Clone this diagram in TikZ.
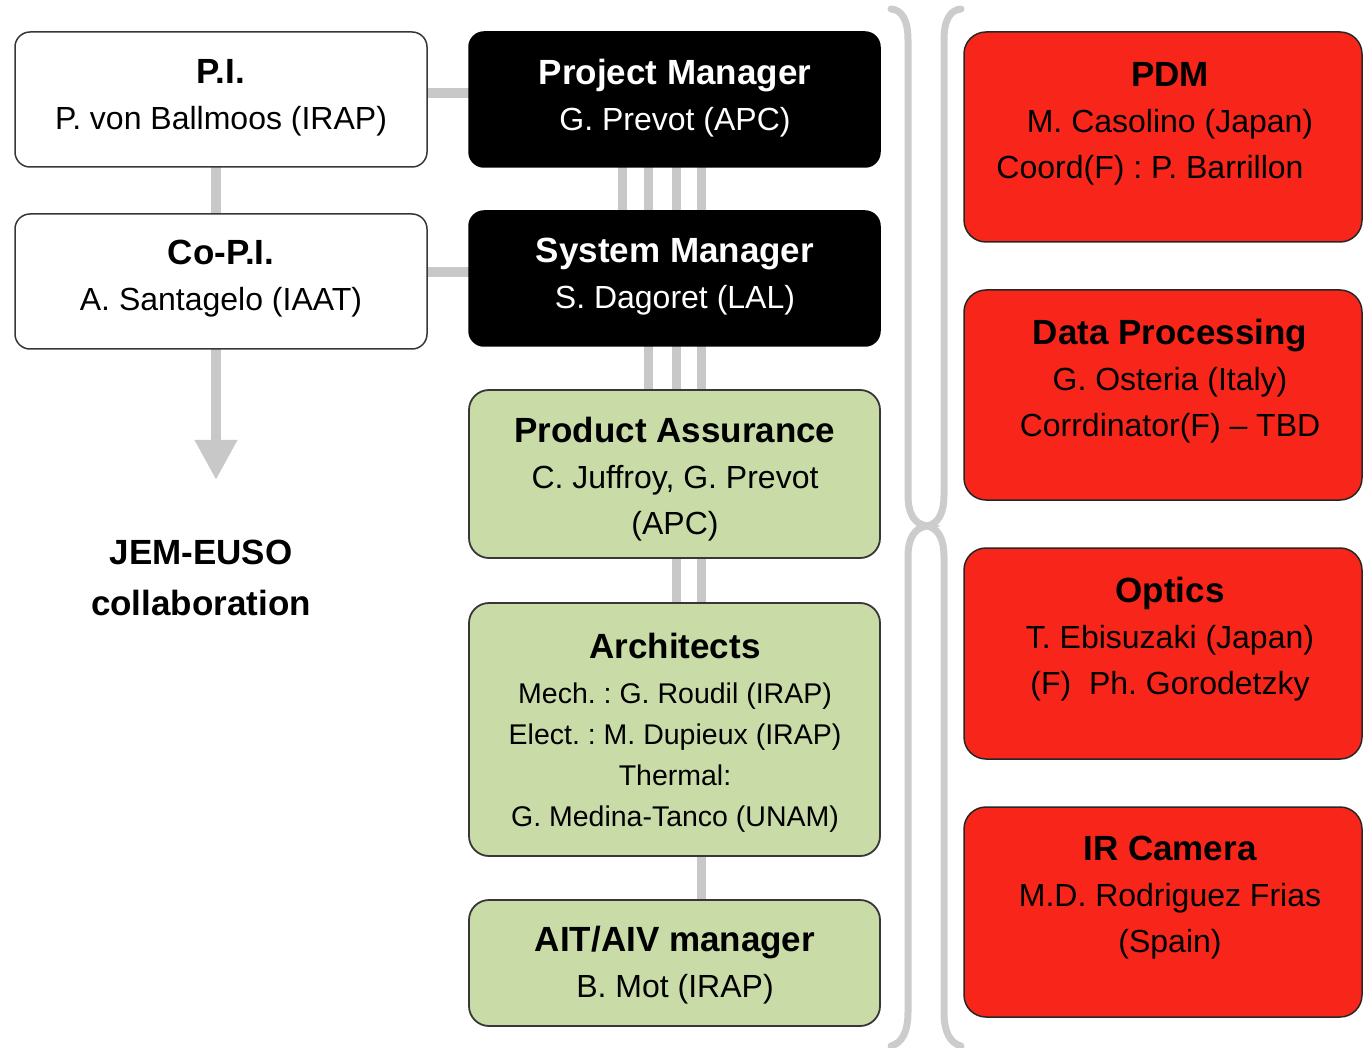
\documentclass[tikz,border=0pt]{standalone}
\usepackage{fontspec}
\setmainfont{Liberation Sans}
\usetikzlibrary{arrows.meta,backgrounds}
\definecolor{boxgreen}{RGB}{201,220,168}
\definecolor{boxred}{RGB}{248,38,26}
\definecolor{linkgray}{RGB}{200,200,200}
\definecolor{bracegray}{RGB}{204,204,204}
\definecolor{rimgray}{RGB}{55,55,55}
\newcommand\hdfont{\fontsize{35}{46}\selectfont\bfseries}
\newcommand\bdfont{\fontsize{32}{46}\selectfont}
\newcommand\smfont{\fontsize{28.5}{41}\selectfont}
\frenchspacing
\begin{document}
\begin{tikzpicture}[x=1pt,y=-1pt,
  every node/.style={inner sep=0pt, outer sep=0pt},
  whitebox/.style={draw=rimgray, fill=white, line width=1.5pt, rounded corners=15pt},
  blackbox/.style={draw=black, fill=black, line width=1.5pt, rounded corners=15pt},
  greenbox/.style={draw=rimgray, fill=boxgreen, line width=1.8pt, rounded corners=20pt},
  redbox/.style={draw=black!85, fill=boxred, line width=1.5pt, rounded corners=22pt},
  txt/.style={align=center, font=\bdfont, text=black},
  wtxt/.style={align=center, font=\bdfont, text=white},
  link/.style={draw=linkgray, line width=10pt},
  thinlink/.style={draw=linkgray, line width=9pt},
  bracestyle/.style={draw=bracegray, line width=7pt, line cap=round}]
\useasboundingbox (0,0) rectangle (1363,1048);

% boxes
\node[whitebox, minimum width=412pt, minimum height=135pt] (pi) at (221,99.5) {};
\node[whitebox, minimum width=412pt, minimum height=135pt] (copi) at (221,281.5) {};
\node[blackbox, minimum width=411pt, minimum height=135pt] (pm) at (674.5,99.5) {};
\node[blackbox, minimum width=411pt, minimum height=135pt] (sm) at (674.5,278.5) {};
\node[greenbox, minimum width=411pt, minimum height=168pt] (pa) at (674.5,474) {};
\node[greenbox, minimum width=411pt, minimum height=253pt] (arch) at (674.5,729.5) {};
\node[greenbox, minimum width=411pt, minimum height=126pt] (ait) at (674.5,963) {};
\node[redbox, minimum width=398pt, minimum height=210pt] (pdm) at (1163,137) {};
\node[redbox, minimum width=398pt, minimum height=210pt] (dp) at (1163,395) {};
\node[redbox, minimum width=398pt, minimum height=211pt] (opt) at (1163,653.5) {};
\node[redbox, minimum width=398pt, minimum height=210pt] (ir) at (1163,912) {};

% texts
\node[txt] (pitxt) at (221,98) {{\hdfont P.I.}\\P. von Ballmoos (IRAP)};
\node[txt] (copitxt) at (221,279) {{\hdfont Co-P.I.}\\A. Santagelo (IAAT)};
\node[wtxt] (pmtxt) at (675,98.5) {{\hdfont Project Manager}\\G. Prevot (APC)};
\node[wtxt] (smtxt) at (675,277) {{\hdfont System Manager}\\S. Dagoret (LAL)};
\node[txt] (patxt) at (675,479.5) {{\hdfont Product Assurance}\\C. Juffroy, G. Prevot\\(APC)};
\node[txt, font=\smfont] (archtxt) at (675,732.5) {{\hdfont Architects}\\[4pt]Mech. : G. Roudil (IRAP)\\Elect. : M. Dupieux (IRAP)\\Thermal:\\G. Medina-Tanco (UNAM)};
\node[txt] (aittxt) at (675,965) {{\hdfont AIT/AIV manager}\\B. Mot (IRAP)};
\node[txt, font=\fontsize{35}{51}\selectfont\bfseries] (jem) at (201,578) {JEM-EUSO\\collaboration};
\node[txt] (pdmtxt) at (1170,124) {{\hdfont PDM}\\M. Casolino (Japan)\\Coord(F) : P. Barrillon\hspace*{40pt}};
\node[txt] (dptxt) at (1170,381.5) {{\hdfont Data Processing}\\G. Osteria (Italy)\\Corrdinator(F) -- TBD};
\node[txt] (opttxt) at (1170,639.5) {{\hdfont Optics}\\T. Ebisuzaki (Japan)\\(F)\ \ Ph. Gorodetzky};
\node[txt] (irtxt) at (1170,897.5) {{\hdfont IR Camera}\\M.D. Rodriguez Frias\\(Spain)};

\coordinate (arrowend) at (216,480);

\begin{scope}[on background layer]
  % left column links
  \draw[link] ([yshift=6.5pt]pi.east) -- ([yshift=6.5pt]pm.west);
  \draw[link] ([yshift=9.5pt]copi.east) -- ([yshift=6.5pt]sm.west);
  \draw[link] ([xshift=-5pt]pi.south) -- ([xshift=-5pt]copi.north);
  \draw[link, -{Triangle[width=40pt,length=40pt]}] ([xshift=-5pt]copi.south) -- (arrowend);
  % PM -> SM : four lines
  \foreach \dx in {-52.5,-26.5,1.5,26.5}
    \draw[thinlink] ([xshift=\dx pt]pm.south) -- ([xshift=\dx pt]sm.north);
  % SM -> PA : three lines
  \foreach \dx in {-26.5,1.5,26.5}
    \draw[thinlink] ([xshift=\dx pt]sm.south) -- ([xshift=\dx pt]pa.north);
  % PA -> Architects : two lines
  \foreach \dx in {1.5,26.5}
    \draw[thinlink] ([xshift=\dx pt]pa.south) -- ([xshift=\dx pt]arch.north);
  % Architects -> AIT : one line
  \draw[thinlink] ([xshift=26.5pt]arch.south) -- ([xshift=26.5pt]ait.north);
\end{scope}

% braces
\draw[bracestyle] (891,9) .. controls (902,10) and (908,20) .. (908,40) -- (908,495)
  .. controls (908,515) and (915,524) .. (927,526)
  .. controls (915,528) and (908,537) .. (908,557) -- (908,1012)
  .. controls (908,1032) and (902,1043) .. (891,1046);
\draw[bracestyle] (961,9) .. controls (950,10) and (944,20) .. (944,40) -- (944,495)
  .. controls (944,515) and (937,524) .. (927,526)
  .. controls (937,528) and (944,537) .. (944,557) -- (944,1012)
  .. controls (944,1032) and (950,1043) .. (961,1046);
\end{tikzpicture}
\end{document}
